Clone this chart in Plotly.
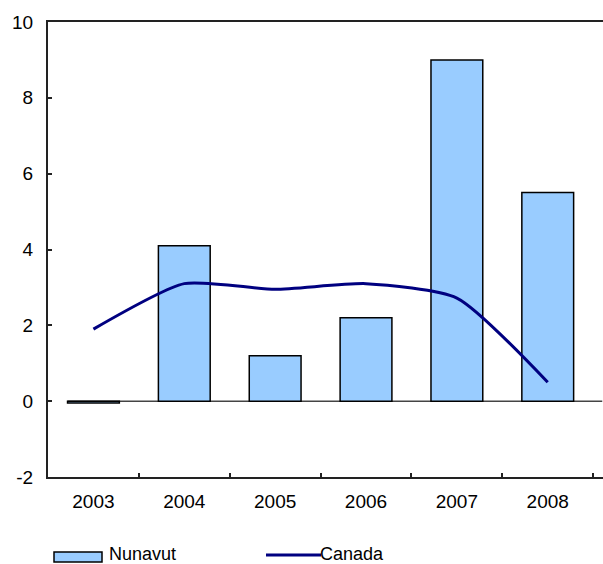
import plotly.graph_objects as go

# Annual growth, per cent
years = ["2003", "2004", "2005", "2006", "2007", "2008"]
nunavut = [-0.05, 4.1, 1.2, 2.2, 9.0, 5.5]
canada = [1.9, 3.1, 2.95, 3.1, 2.72, 0.5]

y_ticks = [-2, 0, 2, 4, 6, 8, 10]

W, H = 603, 564
ML, MR, MT, MB = 48, 0, 22, 87
FONT = dict(family="Liberation Sans, Arial, sans-serif", size=19, color="#000000")
LEGEND_FONT = dict(family="Liberation Sans, Arial, sans-serif", size=18, color="#000000")

BAR_FILL = "#99CCFF"
LINE_COLOR = "#000080"


def paper_x(px):
    return (px - ML) / (W - ML - MR)


def paper_y(py):
    return (H - MB - py) / (H - MT - MB)


fig = go.Figure()

fig.add_trace(go.Bar(
    x=years, y=nunavut, name="Nunavut",
    marker=dict(color=BAR_FILL, line=dict(color="#000000", width=1.5)),
    showlegend=False,
))

fig.add_trace(go.Scatter(
    x=years, y=canada, name="Canada", mode="lines",
    line=dict(color=LINE_COLOR, width=3, shape="spline", smoothing=0.6),
    showlegend=False,
))

# baseline at zero, starting from the first bar
fig.add_shape(type="line", xref="x", yref="y", x0=-0.285, x1=5.6, y0=0, y1=0,
              line=dict(color="#444444", width=1.5), layer="below")

# legend drawn by hand: wide bar swatch and line swatch
fig.add_shape(type="rect", xref="paper", yref="paper",
              x0=paper_x(54), x1=paper_x(102), y0=paper_y(562), y1=paper_y(552),
              fillcolor=BAR_FILL, line=dict(color="#000000", width=1.5))
fig.add_annotation(xref="paper", yref="paper", x=paper_x(108), y=paper_y(554),
                   text="Nunavut", showarrow=False, xanchor="left", yanchor="middle",
                   borderpad=0, font=LEGEND_FONT)
fig.add_shape(type="line", xref="paper", yref="paper",
              x0=paper_x(266), x1=paper_x(321), y0=paper_y(555), y1=paper_y(555),
              line=dict(color=LINE_COLOR, width=3))
fig.add_annotation(xref="paper", yref="paper", x=paper_x(319), y=paper_y(554),
                   text="Canada", showarrow=False, xanchor="left", yanchor="middle",
                   borderpad=0, font=LEGEND_FONT)

fig.update_layout(
    width=W, height=H,
    margin=dict(l=ML, r=MR, t=MT, b=MB, pad=0),
    paper_bgcolor="white", plot_bgcolor="white",
    bargap=0.43,
    font=FONT,
    showlegend=False,
)

fig.update_xaxes(
    type="category", tickson="boundaries",
    showline=True, linecolor="#222222", linewidth=2, mirror=True,
    ticks="inside", ticklen=4, tickwidth=1.5, tickcolor="#222222",
    showgrid=False, zeroline=False, tickfont=FONT, ticklabelstandoff=6,
)
fig.update_yaxes(
    range=[-2, 10], tickvals=y_ticks, ticktext=[str(v) for v in y_ticks],
    showline=True, linecolor="#222222", linewidth=2, mirror=False,
    ticks="inside", ticklen=4, tickwidth=1.5, tickcolor="#222222",
    showgrid=False, zeroline=False, tickfont=FONT, ticklabelstandoff=9,
)

fig.write_html("out.html")
